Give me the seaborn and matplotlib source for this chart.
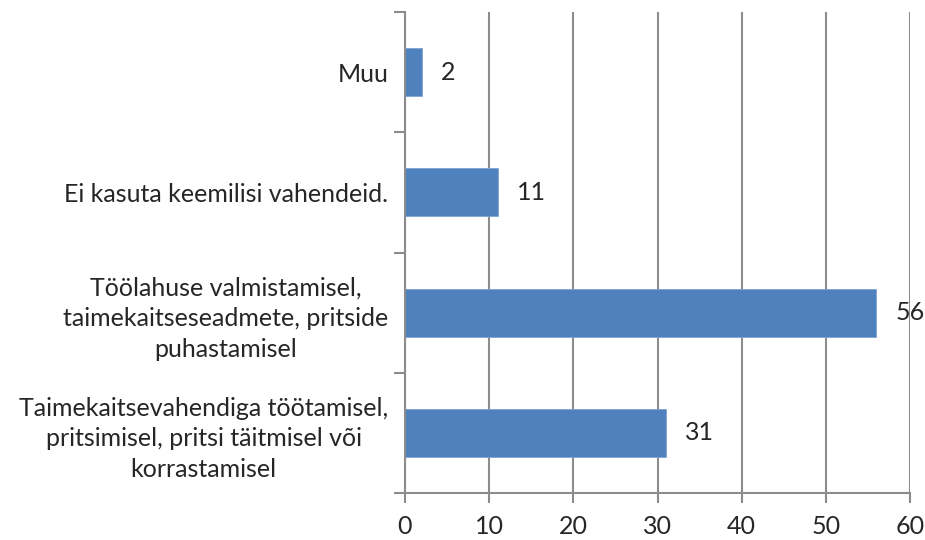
import matplotlib
matplotlib.use("Agg")
import matplotlib.pyplot as plt
import seaborn as sns
import pandas as pd
import numpy as np

categories = [
    "Muu",
    "Ei kasuta keemilisi vahendeid.",
    "Töölahuse valmistamisel,\ntaimekaitseseadmete, pritside\npuhastamisel",
    "Taimekaitsevahendiga töötamisel,\npritsimisel, pritsi täitmisel või\nkorrastamisel",
]
values = [2, 11, 56, 31]
x_ticks = [0, 10, 20, 30, 40, 50, 60]

sns.set_style("white")
plt.rcParams['font.family'] = ['Lato', 'DejaVu Sans']

df = pd.DataFrame({"Category": categories, "Value": values})

fig = plt.figure(figsize=(9.25, 5.4), dpi=100)
ax = fig.add_axes([405 / 925, 47 / 540, 505 / 925, 481 / 540])

sns.barplot(data=df, x="Value", y="Category", order=categories,
            color="#4F81BD", width=0.4, edgecolor="#7FA3D3", linewidth=0.6,
            saturation=1, ax=ax)

ax.set_xlim(0, 60)
ax.set_ylim(len(categories) - 0.5, -0.5)
ax.set_xticks(x_ticks)
ax.set_xlabel("")
ax.set_ylabel("")

ax.grid(axis="x", color="#8C8C8C", linewidth=1.5)
ax.set_axisbelow(True)
for side in ["top", "right"]:
    ax.spines[side].set_visible(False)
for side in ["left", "bottom"]:
    ax.spines[side].set_color("#8C8C8C")
    ax.spines[side].set_linewidth(1.5)

ax.tick_params(axis="x", bottom=True, direction="out", length=7, width=1.5,
               color="#8C8C8C", labelsize=18, pad=9)
ax.tick_params(axis="y", which="major", left=False, length=0, labelsize=18, pad=12)
ax.set_yticks(np.arange(-0.5, len(categories), 1.0), minor=True)
ax.tick_params(axis="y", which="minor", left=True, direction="out", length=8,
               width=1.5, color="#8C8C8C")
for lbl in ax.get_yticklabels():
    lbl.set_multialignment("center")
    lbl.set_linespacing(1.4)

ax.bar_label(ax.containers[0], padding=14, fontsize=18)

fig.savefig("out.png", dpi=100)
